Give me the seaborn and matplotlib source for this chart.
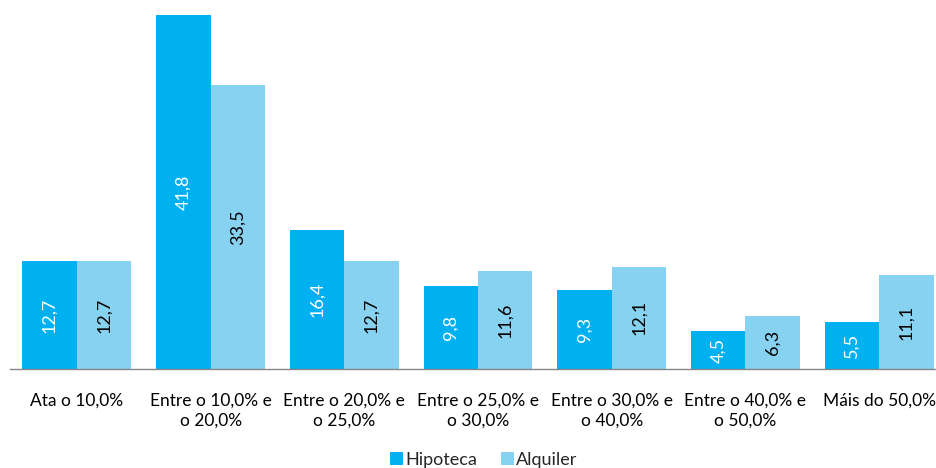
import matplotlib
matplotlib.use("Agg")
import matplotlib.pyplot as plt
import seaborn as sns
import pandas as pd
from matplotlib.patches import Patch

categories = ["Ata o 10,0%", "Entre o 10,0% e\no 20,0%", "Entre o 20,0% e\no 25,0%",
              "Entre o 25,0% e\no 30,0%", "Entre o 30,0% e\no 40,0%",
              "Entre o 40,0% e\no 50,0%", "Máis do 50,0%"]
hipoteca = [12.7, 41.8, 16.4, 9.8, 9.3, 4.5, 5.5]
alquiler = [12.7, 33.5, 12.7, 11.6, 12.1, 6.3, 11.1]
series = ["Hipoteca", "Alquiler"]
colors = ["#00B0F0", "#87D2F0"]

df = pd.DataFrame({
    "cat": categories * 2,
    "val": hipoteca + alquiler,
    "serie": [series[0]] * len(categories) + [series[1]] * len(categories),
})

sns.set_style("white")
plt.rcParams["font.family"] = ["Lato", "DejaVu Sans"]

W, H = 936, 468
fig = plt.figure(figsize=(W / 100, H / 100), dpi=100)
left_px, right_px, base_px, top_px = 10, 946, 369, 0
ax = fig.add_axes([left_px / W, (H - base_px) / H, (right_px - left_px) / W, (base_px - top_px) / H])

sns.barplot(data=df, x="cat", y="val", hue="serie", palette=colors, width=0.815,
            ax=ax, legend=False, saturation=1, edgecolor="none", linewidth=0)

ax.set_xlim(-0.5, len(categories) - 0.5)
ax.set_ylim(0, 41.8 * base_px / (base_px - 15))
ax.set_xlabel("")
ax.set_ylabel("")
ax.set_yticks([])

for spine in ["top", "right", "left"]:
    ax.spines[spine].set_visible(False)
ax.spines["bottom"].set_color("#868686")
ax.spines["bottom"].set_linewidth(1)

ax.set_xticks(range(len(categories)))
ax.set_xticklabels(categories, fontsize=12.5, color="#000000", linespacing=1.3)
ax.tick_params(axis="x", which="major", length=0, pad=17)
ax.set_xticks([i - 0.5 for i in range(len(categories) + 1)], minor=True)
ax.tick_params(axis="x", which="minor", length=5, color="#868686", width=1, direction="out")

label_colors = ["white", "black"]
for cont, vals, lc in zip(ax.containers, [hipoteca, alquiler], label_colors):
    ax.bar_label(cont, labels=[f"{v:.1f}".replace(".", ",") for v in vals],
                 label_type="center", rotation=90, color=lc, fontsize=13)

handles = [Patch(facecolor=c, edgecolor="none", label=s) for c, s in zip(colors, series)]
fig.legend(handles=handles, loc="lower center", bbox_to_anchor=(484 / W, -0.035), ncol=2,
           frameon=False, fontsize=13, handlelength=0.7, handleheight=0.7,
           handletextpad=0.15, columnspacing=1.3)

fig.savefig("out.png", dpi=100)
